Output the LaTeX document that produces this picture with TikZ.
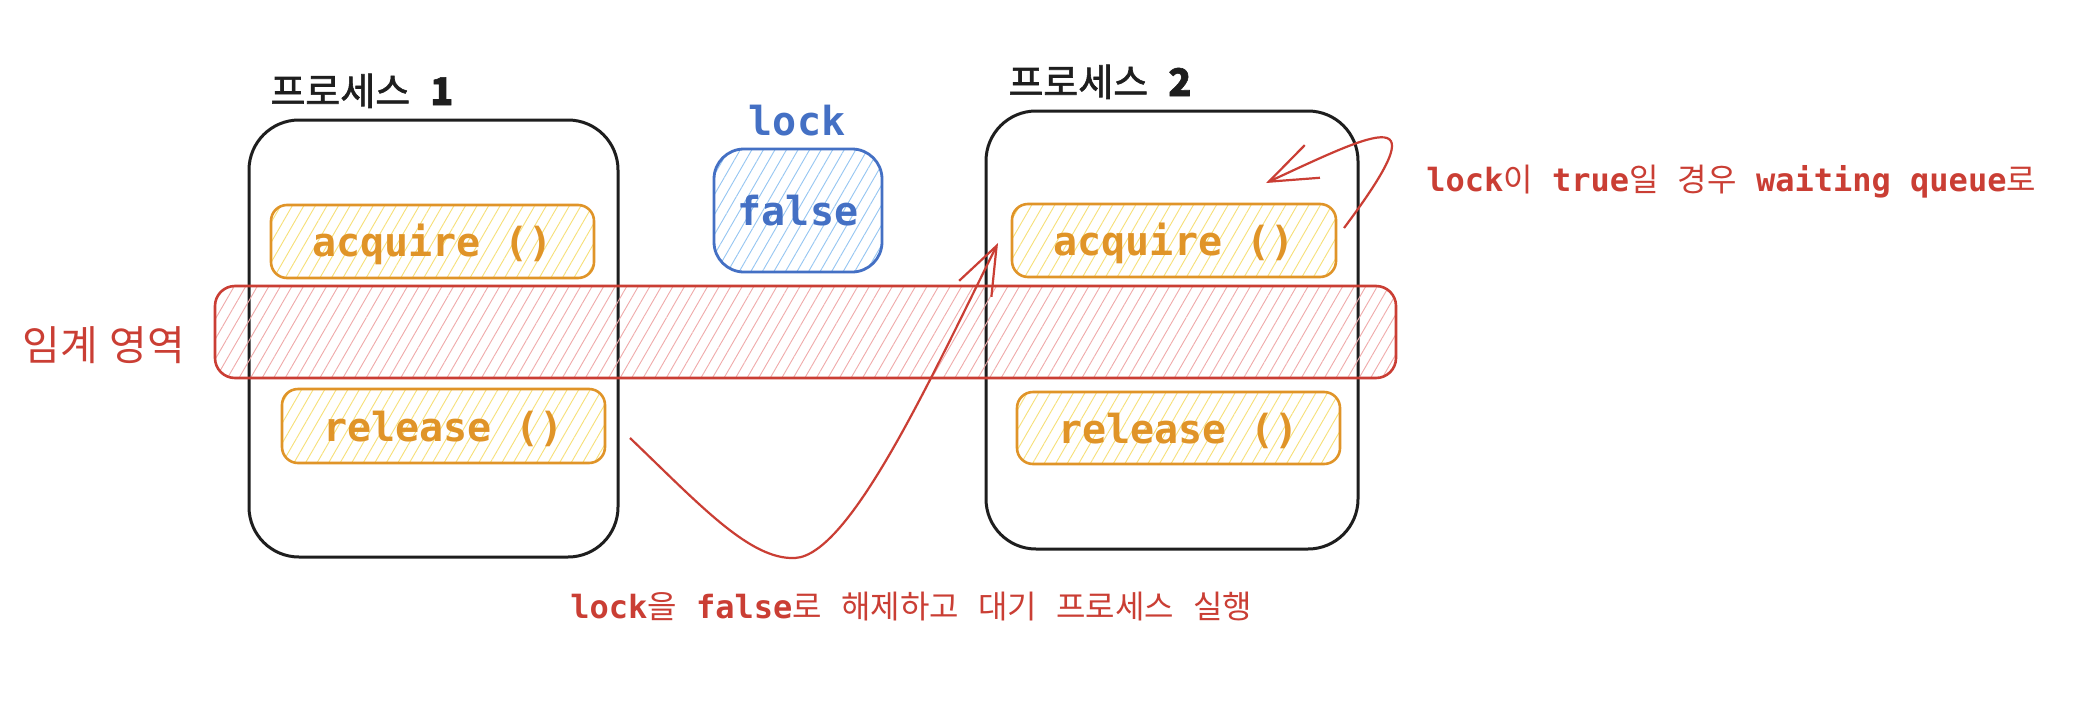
\documentclass[tikz,border=0pt]{standalone}
\usepackage{fontspec}
\newfontfamily\kr{Noto Sans CJK KR}
\newfontfamily\krb{Noto Sans CJK KR}[FakeBold=1.6]
\newfontfamily\mono{DejaVu Sans Mono}
\usetikzlibrary{patterns.meta,arrows.meta}
\definecolor{ink}{HTML}{1E1E1E}
\definecolor{orng}{RGB}{224,148,40}
\definecolor{ylw}{RGB}{247,224,120}
\definecolor{blu}{RGB}{68,112,196}
\definecolor{lblu}{RGB}{150,198,242}
\definecolor{rd}{RGB}{202,62,52}
\definecolor{pnk}{RGB}{240,170,170}
\tikzset{
  procbox/.style={draw=ink, line width=1.5pt, rounded corners=25pt, inner sep=0pt},
  boxtext/.style={text height=15pt, text depth=0pt, font=\mono\bfseries\fontsize{20pt}{24pt}\selectfont},
  fnbox/.style={draw=orng, line width=1.3pt, rounded corners=8pt, inner sep=0pt,
    pattern={Lines[angle=60,distance=5pt,line width=0.45pt]}, pattern color=ylw,
    text=orng, boxtext},
  lockbox/.style={draw=blu, line width=1.4pt, rounded corners=15pt, inner sep=0pt,
    pattern={Lines[angle=60,distance=5pt,line width=0.45pt]}, pattern color=lblu,
    text=blu, boxtext},
  critbox/.style={draw=rd, line width=1.3pt, rounded corners=10pt, inner sep=0pt,
    pattern={Lines[angle=60,distance=5pt,line width=0.45pt]}, pattern color=pnk},
  ttl/.style={inner sep=0pt, text=ink, font=\krb\fontsize{19pt}{22pt}\selectfont},
  bluelabel/.style={inner sep=0pt, text=blu, font=\mono\bfseries\fontsize{20pt}{24pt}\selectfont},
  redlabel/.style={inner sep=0pt, text=rd, font=\kr\fontsize{20.5pt}{24pt}\selectfont},
  note/.style={inner sep=0pt, text=rd, font=\kr\fontsize{16pt}{19pt}\selectfont},
  redarrow/.style={draw=rd, line width=1.1pt, -{Straight Barb[length=24pt,width=18pt,line width=1.1pt]}},
}
\newcommand{\mt}[1]{{\mono\bfseries #1}}
\begin{document}
\begin{tikzpicture}[x=0.5pt,y=-0.5pt]
\useasboundingbox[fill=white] (0,0) rectangle (2076,712);

% process boxes
\node[procbox, minimum width=184.5pt, minimum height=218.5pt] (p1) at (433.5,338.5) {};
\node[procbox, minimum width=186pt, minimum height=219pt] (p2) at (1172,330) {};

% titles
\node[ttl, anchor=base west] (t1) at (270,105) {프로세스\hspace{10pt}{\bfseries 1}};
\node[ttl, anchor=base west] (t2) at (1008,96) {프로세스\hspace{10pt}{\bfseries 2}};

% function boxes
\node[fnbox, minimum width=161.5pt, minimum height=36.5pt] (a1) at (432.5,241.5) {acquire ()};
\node[fnbox, minimum width=161.5pt, minimum height=37pt] (r1) at (443.5,426) {release ()};
\node[fnbox, minimum width=162pt, minimum height=36.5pt] (a2) at (1174,240.5) {acquire ()};
\node[fnbox, minimum width=161.5pt, minimum height=36pt] (r2) at (1178.5,428) {release ()};

% lock
\node[bluelabel, anchor=base] (lk) at (797,135) {lock};
\node[lockbox, minimum width=84pt, minimum height=61.5pt] (lv) at (798,210.5) {false};

% critical region
\node[critbox, minimum width=590.5pt, minimum height=46pt] (cr) at (805.5,332) {};
\node[redlabel, anchor=base west] (crl) at (22,360) {임계\hspace{6pt}영역};

% notes
\node[note, anchor=base west] (n1) at (1426,191) {\mt{lock}이\mt{ true}일\mt{ }경우\mt{ waiting queue}로};
\node[note, anchor=base west] (n2) at (570,618) {\mt{lock}을\mt{ false}로\mt{ }해제하고\mt{ }대기\mt{ }프로세스\mt{ }실행};

% arrows
\coordinate (rs) at (630,438);
\coordinate (rm) at (795,558);
\coordinate (ae) at (998,243);
\draw[redarrow] (rs) .. controls (700,505) and (750,560) .. (rm) .. controls (850,555) and (930,380) .. (ae);
\coordinate (us) at (1344,228);
\coordinate (ue) at (1266,183);
\draw[redarrow] (us) .. controls (1440,100) and (1380,130) .. (ue);
\end{tikzpicture}
\end{document}
